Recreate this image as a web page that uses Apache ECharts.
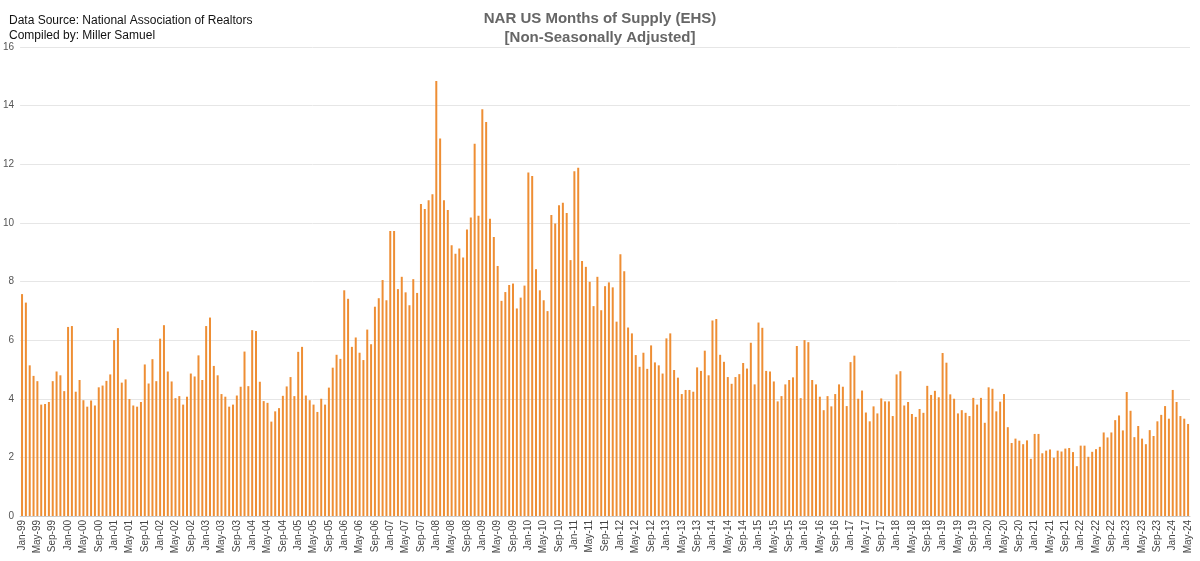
<!DOCTYPE html>
<html lang="en">
<head>
    <meta charset="UTF-8">
    <title>NAR US Months of Supply</title>
    <script src="https://cdn.jsdelivr.net/npm/echarts/dist/echarts.min.js"></script>
    <style>
        body { margin: 0; background: #fff; }
        #chart { width: 1200px; height: 561px; }
    </style>
</head>
<body>
    <div id="chart"></div>
    <script>
        // Months of supply by year, Jan..Dec (2024 through May)
        const supplyByYear = {
            1999: [7.57, 7.28, 5.14, 4.78, 4.6, 3.8, 3.82, 3.89, 4.6, 4.93, 4.8, 4.26],
            2000: [6.45, 6.48, 4.24, 4.64, 3.95, 3.73, 3.94, 3.77, 4.39, 4.45, 4.61, 4.83],
            2001: [6.0, 6.41, 4.55, 4.66, 3.99, 3.77, 3.73, 3.89, 5.17, 4.52, 5.35, 4.6],
            2002: [6.05, 6.51, 4.93, 4.59, 4.02, 4.09, 3.8, 4.07, 4.86, 4.76, 5.48, 4.64],
            2003: [6.48, 6.77, 5.12, 4.8, 4.16, 4.07, 3.73, 3.8, 4.11, 4.41, 5.61, 4.43],
            2004: [6.34, 6.31, 4.58, 3.92, 3.86, 3.22, 3.57, 3.68, 4.1, 4.42, 4.74, 4.09],
            2005: [5.6, 5.77, 4.11, 3.95, 3.8, 3.55, 4.0, 3.8, 4.38, 5.06, 5.5, 5.36],
            2006: [7.7, 7.41, 5.77, 6.09, 5.57, 5.32, 6.36, 5.86, 7.14, 7.43, 8.05, 7.36],
            2007: [9.72, 9.72, 7.74, 8.16, 7.63, 7.19, 8.08, 7.61, 10.64, 10.47, 10.77, 10.98],
            2008: [14.84, 12.88, 10.77, 10.44, 9.24, 8.95, 9.13, 8.82, 9.77, 10.18, 12.7, 10.24],
            2009: [13.88, 13.44, 10.14, 9.52, 8.53, 7.34, 7.64, 7.88, 7.93, 7.08, 7.45, 7.86],
            2010: [11.72, 11.6, 8.42, 7.7, 7.36, 6.99, 10.27, 9.98, 10.6, 10.69, 10.34, 8.73],
            2011: [11.76, 11.88, 8.7, 8.5, 7.99, 7.16, 8.16, 7.02, 7.84, 7.97, 7.8, 6.63],
            2012: [8.93, 8.35, 6.43, 6.23, 5.49, 5.09, 5.57, 5.02, 5.82, 5.24, 5.14, 4.86],
            2013: [6.06, 6.23, 4.98, 4.72, 4.16, 4.3, 4.3, 4.24, 5.07, 4.95, 5.64, 4.8],
            2014: [6.67, 6.72, 5.5, 5.26, 4.74, 4.51, 4.74, 4.84, 5.22, 5.03, 5.91, 4.49],
            2015: [6.6, 6.42, 4.95, 4.93, 4.59, 3.91, 4.09, 4.49, 4.64, 4.73, 5.8, 4.02],
            2016: [6.0, 5.93, 4.64, 4.49, 4.07, 3.61, 4.09, 3.74, 4.16, 4.49, 4.41, 3.75],
            2017: [5.25, 5.47, 4.0, 4.28, 3.53, 3.23, 3.74, 3.5, 4.01, 3.91, 3.91, 3.41],
            2018: [4.83, 4.94, 3.77, 3.89, 3.48, 3.38, 3.65, 3.52, 4.44, 4.13, 4.27, 4.05],
            2019: [5.56, 5.23, 4.15, 4.0, 3.5, 3.61, 3.52, 3.41, 4.03, 3.8, 4.03, 3.18],
            2020: [4.39, 4.34, 3.57, 3.9, 4.16, 3.03, 2.49, 2.64, 2.57, 2.45, 2.58, 1.95],
            2021: [2.8, 2.8, 2.14, 2.23, 2.27, 1.99, 2.23, 2.2, 2.3, 2.32, 2.18, 1.7],
            2022: [2.4, 2.4, 2.02, 2.19, 2.28, 2.36, 2.85, 2.68, 2.85, 3.27, 3.43, 2.92],
            2023: [4.23, 3.59, 2.69, 3.07, 2.64, 2.45, 2.93, 2.73, 3.23, 3.45, 3.75, 3.32],
            2024: [4.3, 3.89, 3.41, 3.32, 3.14]
        };
        const monthNames = ['Jan', 'Feb', 'Mar', 'Apr', 'May', 'Jun', 'Jul', 'Aug', 'Sep', 'Oct', 'Nov', 'Dec'];

        const categories = [];
        const values = [];
        Object.keys(supplyByYear).forEach(year => {
            supplyByYear[year].forEach((v, i) => {
                categories.push(monthNames[i] + '-' + String(year).slice(2));
                values.push(v);
            });
        });

        const chart = echarts.init(document.getElementById('chart'));
        chart.setOption({
            animation: false,
            title: [{
                text: 'NAR US Months of Supply (EHS)\n[Non-Seasonally Adjusted]',
                left: 'center',
                top: 4,
                textStyle: { fontFamily: 'Liberation Sans', fontSize: 15, fontWeight: 'bold', color: '#666', lineHeight: 19 }
            }, {
                text: 'Data Source: National Association of Realtors\nCompiled by: Miller Samuel',
                left: 4,
                top: 8,
                textStyle: { fontFamily: 'Liberation Sans', fontSize: 12, fontWeight: 'normal', color: '#111', lineHeight: 15 }
            }],
            grid: { left: 17, right: 10, top: 47, bottom: 45 },
            xAxis: {
                type: 'category',
                data: categories,
                axisTick: { show: false },
                axisLine: { lineStyle: { color: '#ccc' } },
                axisLabel: {
                    interval: 3,
                    rotate: 90,
                    fontFamily: 'Liberation Sans',
                    fontSize: 10,
                    color: '#444',
                    margin: 4
                }
            },
            yAxis: {
                type: 'value',
                min: 0,
                max: 16,
                interval: 2,
                axisLabel: { fontFamily: 'Liberation Sans', fontSize: 10, color: '#555', margin: 6 },
                splitLine: { lineStyle: { color: '#e6e6e6' } }
            },
            series: [{
                type: 'bar',
                data: values,
                barWidth: 2,
                itemStyle: { color: '#EE8E34' }
            }]
        });
    </script>
</body>
</html>
